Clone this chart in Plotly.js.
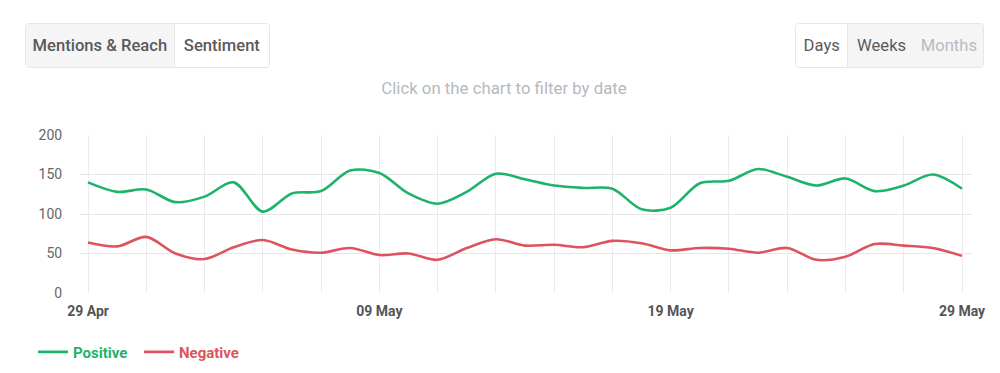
<!DOCTYPE html>
<html>
<head>
<meta charset="utf-8">
<script src="https://cdn.plot.ly/plotly-3.0.1.min.js"></script>
<style>
  html, body { margin: 0; padding: 0; background: #fff; width: 1000px; height: 373px; overflow: hidden; font-family: Roboto, "Open Sans", sans-serif; }
  #chart { position: absolute; left: 0; top: 0; width: 1000px; height: 373px; }
  .grp { position: absolute; top: 23px; height: 45px; display: flex; border: 1px solid #e4e6e8; border-radius: 4px; overflow: hidden; box-sizing: border-box; z-index: 5; }
  .btn { height: 100%; display: flex; align-items: center; justify-content: center; font-size: 16.6px; font-weight: 500; color: #5a5a5a; background: #f5f5f5; box-sizing: border-box; }
  .btn.on { background: #fff; }
  .btn.dim { color: #b7bbc1; font-weight: 400; }
  #sub { position: absolute; top: 78px; left: 0; width: 1008px; text-align: center; font-size: 16.8px; color: #b5b9bf; z-index: 5; }
</style>
</head>
<body>
<div id="chart"></div>
<div class="grp" style="left:25px;width:245px;">
  <div class="btn" style="width:150px;border-right:1px solid #e4e6e8;">Mentions &amp; Reach</div>
  <div class="btn on" style="width:95px;">Sentiment</div>
</div>
<div class="grp" style="left:795px;width:189px;">
  <div class="btn on" style="width:53px;font-weight:400;border-right:1px solid #e4e6e8;">Days</div>
  <div class="btn" style="width:67px;font-weight:400;">Weeks</div>
  <div class="btn dim" style="width:69px;">Months</div>
</div>
<div id="sub">Click on the chart to filter by date</div>
<script>
const dates = [
  '2024-04-29','2024-04-30','2024-05-01','2024-05-02','2024-05-03','2024-05-04','2024-05-05','2024-05-06',
  '2024-05-07','2024-05-08','2024-05-09','2024-05-10','2024-05-11','2024-05-12','2024-05-13','2024-05-14',
  '2024-05-15','2024-05-16','2024-05-17','2024-05-18','2024-05-19','2024-05-20','2024-05-21','2024-05-22',
  '2024-05-23','2024-05-24','2024-05-25','2024-05-26','2024-05-27','2024-05-28','2024-05-29'
];
const positive = [140,128,131,115,122,140,103,126,129,155,152,126,113,128,151,144,136,133,132,106,108,139,142,157,147,136,145,129,136,150,132];
const negative = [64,59,71,50,43,58,67,55,51,57,48,50,42,57,68,60,61,58,66,63,54,57,56,51,57,42,46,62,60,57,47];
const xTickVals = ['2024-04-29','2024-05-09','2024-05-19','2024-05-29'];
const xTickText = ['29 Apr','09 May','19 May','29 May'];
const yTicks = [0,50,100,150,200];

const green = '#1eb36b', red = '#de5360';
const traces = [
  {x: dates, y: positive, type: 'scatter', mode: 'lines', name: '<b><span style="color:' + green + '">Positive</span></b>',
   line: {color: green, width: 2.6, shape: 'spline', smoothing: 0.9}, hoverinfo: 'x+y'},
  {x: dates, y: negative, type: 'scatter', mode: 'lines', name: '<b><span style="color:' + red + '">Negative</span></b>',
   line: {color: red, width: 2.6, shape: 'spline', smoothing: 0.9}, hoverinfo: 'x+y'}
];
const layout = {
  width: 1000, height: 373,
  margin: {l: 80, r: 28, t: 135, b: 80},
  paper_bgcolor: '#fff', plot_bgcolor: '#fff',
  font: {family: 'Roboto, sans-serif', color: '#666'},
  showlegend: true,
  legend: {orientation: 'h', x: 0.033, xref: 'container', xanchor: 'left', y: 0.056, yref: 'container', yanchor: 'middle',
           font: {size: 15, family: 'Roboto, sans-serif'}, itemwidth: 30, tracegroupgap: 0,
           entrywidth: 61, entrywidthmode: 'pixels'},
  xaxis: {
    type: 'date',
    range: ['2024-04-28 17:24', '2024-05-29 08:14'],
    tickvals: xTickVals, ticktext: xTickText,
    tickfont: {size: 14, color: '#555', family: 'Roboto, sans-serif', weight: 'bold'},
    showgrid: true, gridcolor: '#ebebeb', gridwidth: 1,
    minor: {dtick: 2 * 86400000, tick0: '2024-04-29', showgrid: true, gridcolor: '#ebebeb', gridwidth: 1},
    zeroline: false, showline: false,
    ticks: 'outside', ticklen: 5, tickcolor: 'rgba(0,0,0,0)', fixedrange: true
  },
  yaxis: {
    range: [0, 200], tickvals: yTicks,
    tickfont: {size: 14, color: '#666'},
    showgrid: true, gridcolor: '#e6e6e6', gridwidth: 1.3,
    zeroline: false, showline: false,
    ticks: 'outside', ticklen: 14, tickcolor: 'rgba(0,0,0,0)', fixedrange: true
  }
};
Plotly.newPlot('chart', traces, layout, {displayModeBar: false, staticPlot: false});
</script>
</body>
</html>
